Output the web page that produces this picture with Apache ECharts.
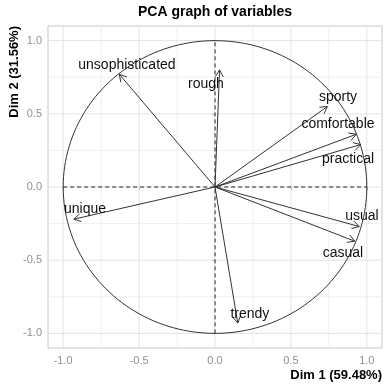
<!DOCTYPE html>
<html>
<head>
<meta charset="utf-8">
<script src="https://cdn.jsdelivr.net/npm/echarts@6/dist/echarts.min.js"></script>
<style>html,body{margin:0;padding:0;background:#fff}#c{width:386px;height:386px}</style>
</head>
<body>
<div id="c"></div>
<script>
// ---- data ----
var varNames = ['unsophisticated','rough','sporty','comfortable','practical','usual','casual','unique','trendy'];
var dim1 = [-0.63, 0.03, 0.74, 0.93, 0.96, 0.95, 0.92, -0.93, 0.15];
var dim2 = [0.77, 0.80, 0.55, 0.36, 0.29, -0.27, -0.37, -0.22, -0.93];
var labelX = [-0.58, -0.06, 0.81, 0.81, 0.876, 0.968, 0.843, -0.856, 0.23];
var labelY = [0.835, 0.705, 0.617, 0.427, 0.188, -0.20, -0.45, -0.152, -0.866];
var majorTicks = [-1, -0.5, 0, 0.5, 1];
var minorTicks = [-0.75, -0.25, 0.25, 0.75];
var axisMin = -1.1, axisMax = 1.1;
var titleText = 'PCA graph of variables';
var xTitle = 'Dim 1 (59.48%)';
var yTitle = 'Dim 2 (31.56%)';

var FONT = '"Liberation Sans", Arial, sans-serif';

function gridSeries(vals, vertical, color, width) {
  return {
    type: 'custom', silent: true, z: 0,
    data: vals.map(function (v) { return [v]; }),
    renderItem: function (params, api) {
      var v = api.value(0), p1, p2;
      if (vertical) { p1 = api.coord([v, axisMin]); p2 = api.coord([v, axisMax]); }
      else { p1 = api.coord([axisMin, v]); p2 = api.coord([axisMax, v]); }
      return { type: 'line', shape: { x1: p1[0], y1: p1[1], x2: p2[0], y2: p2[1] },
               style: { stroke: color, lineWidth: width } };
    }
  };
}

var arrowData = varNames.map(function (n, i) { return [dim1[i], dim2[i], n]; });
var labelData = varNames.map(function (n, i) { return [labelX[i], labelY[i], n]; });

var option = {
  animation: false,
  backgroundColor: '#fff',
  grid: { left: 48, right: 4, top: 26, bottom: 38, show: true, borderColor: '#c8c8c8', borderWidth: 1, backgroundColor: '#fff' },
  xAxis: {
    type: 'value', min: axisMin, max: axisMax,
    axisLine: { show: false }, splitLine: { show: false },
    axisTick: { show: true, customValues: majorTicks, length: 3, lineStyle: { color: '#c0c0c0' } },
    axisLabel: { customValues: majorTicks, formatter: function (v) { return v.toFixed(1); }, color: '#909090', fontSize: 11, fontFamily: FONT, margin: 7 }
  },
  yAxis: {
    type: 'value', min: axisMin, max: axisMax,
    axisLine: { show: false }, splitLine: { show: false },
    axisTick: { show: true, customValues: majorTicks, length: 3, lineStyle: { color: '#c0c0c0' } },
    axisLabel: { customValues: majorTicks, formatter: function (v) { return v.toFixed(1); }, color: '#909090', fontSize: 11, fontFamily: FONT, margin: 6 }
  },
  graphic: [
    { type: 'text', x: 215, y: 12, style: { text: titleText, font: 'bold 14px ' + FONT, fill: '#000', textAlign: 'center', textVerticalAlign: 'middle' } },
    { type: 'text', x: 382, y: 375, style: { text: xTitle, font: 'bold 13px ' + FONT, fill: '#000', textAlign: 'right', textVerticalAlign: 'middle' } },
    { type: 'text', x: 14, y: 26, rotation: Math.PI / 2, style: { text: yTitle, font: 'bold 13px ' + FONT, fill: '#000', textAlign: 'right', textVerticalAlign: 'middle' } }
  ],
  series: [
    gridSeries(minorTicks, true, '#efefef', 1),
    gridSeries(minorTicks, false, '#efefef', 1),
    gridSeries(majorTicks, true, '#e3e3e3', 1),
    gridSeries(majorTicks, false, '#e3e3e3', 1),
    {
      type: 'custom', silent: true, z: 2, data: [[0, 0]],
      renderItem: function (params, api) {
        var pts = [];
        for (var k = 0; k <= 180; k++) {
          var t = k / 180 * 2 * Math.PI;
          pts.push(api.coord([Math.cos(t), Math.sin(t)]));
        }
        return { type: 'polyline', shape: { points: pts }, style: { stroke: '#333', lineWidth: 1, fill: null } };
      }
    },
    { type: 'line', data: [[-1, 0], [1, 0]], symbol: 'none', silent: true, z: 3, lineStyle: { color: '#222', width: 1, type: [4, 3] } },
    { type: 'line', data: [[0, -1], [0, 1]], symbol: 'none', silent: true, z: 3, lineStyle: { color: '#222', width: 1, type: [4, 3] } },
    {
      type: 'custom', silent: true, z: 4, data: arrowData,
      renderItem: function (params, api) {
        var s = api.coord([0, 0]);
        var e = api.coord([api.value(0), api.value(1)]);
        var ang = Math.atan2(e[1] - s[1], e[0] - s[0]);
        var L = 8, a = Math.PI / 6;
        var h1 = [e[0] - L * Math.cos(ang - a), e[1] - L * Math.sin(ang - a)];
        var h2 = [e[0] - L * Math.cos(ang + a), e[1] - L * Math.sin(ang + a)];
        var st = { stroke: '#333', lineWidth: 1 };
        return { type: 'group', children: [
          { type: 'line', shape: { x1: s[0], y1: s[1], x2: e[0], y2: e[1] }, style: st },
          { type: 'polyline', shape: { points: [h1, e, h2] }, style: { stroke: '#333', lineWidth: 1, fill: null } }
        ] };
      }
    },
    {
      type: 'custom', silent: true, z: 5, data: labelData,
      renderItem: function (params, api) {
        var p = api.coord([api.value(0), api.value(1)]);
        return { type: 'text', x: p[0], y: p[1], style: { text: labelData[params.dataIndex][2], font: '14px ' + FONT, fill: '#111', textAlign: 'center', textVerticalAlign: 'middle' } };
      }
    }
  ]
};
echarts.init(document.getElementById('c')).setOption(option);
</script>
</body>
</html>
